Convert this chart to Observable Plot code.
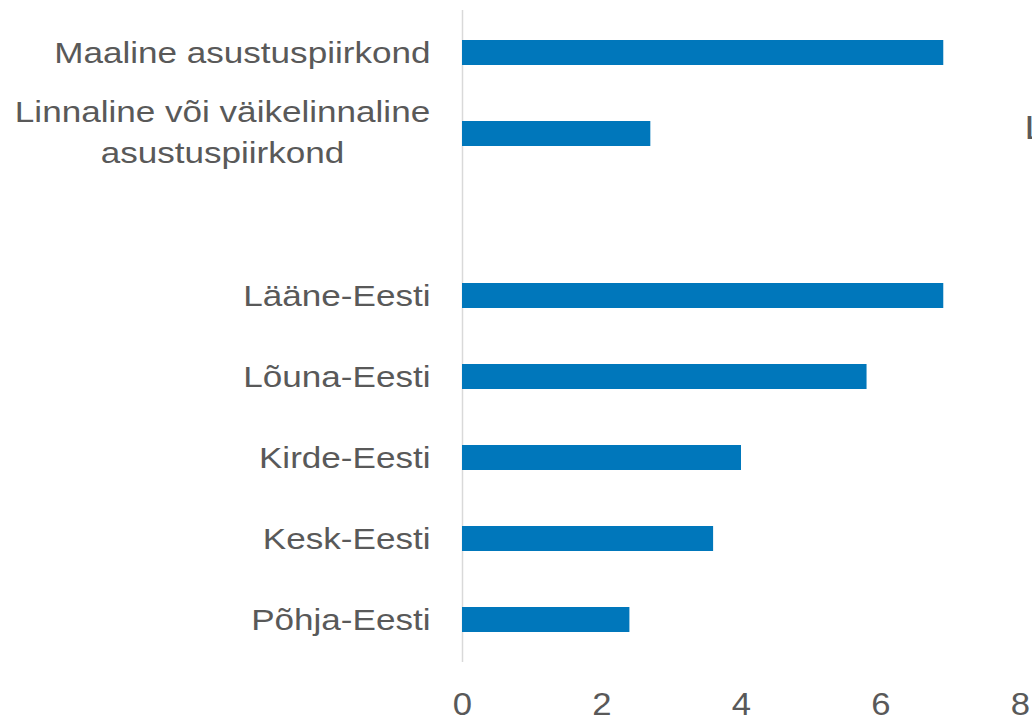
<!DOCTYPE html>
<html>
<head>
<meta charset="utf-8">
<script src="https://cdn.jsdelivr.net/npm/d3@7"></script>
<script src="https://cdn.jsdelivr.net/npm/@observablehq/plot@0.6"></script>
<style>
  html, body { margin: 0; padding: 0; background: #fff; overflow: hidden; }
  #chart svg { overflow: hidden; display: block; }
</style>
</head>
<body>
<div id="chart"></div>
<script>
const categories = [
  "Maaline asustuspiirkond",
  "Linnaline või väikelinnaline\nasustuspiirkond",
  " ",
  "Lääne-Eesti",
  "Lõuna-Eesti",
  "Kirde-Eesti",
  "Kesk-Eesti",
  "Põhja-Eesti"
];
const values = [6.9, 2.7, null, 6.9, 5.8, 4.0, 3.6, 2.4];
const xTicks = [0, 2, 4, 6, 8];
const cutLabel = "L";

const multiLabel = categories[1];
const data = categories.map((c, i) => ({category: c, value: values[i]})).filter(d => d.value != null);

const font = "'Liberation Sans', Arial, sans-serif";
const textColor = "#595959";
const fs = 30;

const chart = Plot.plot({
  width: 1032,
  height: 720,
  marginLeft: 462,
  marginRight: 12,
  marginTop: 10,
  marginBottom: 58,
  style: {fontFamily: font, fontSize: fs + "px", color: textColor, background: "#fff"},
  x: {domain: [0, 8]},
  y: {domain: categories, paddingInner: 0.69, paddingOuter: 0.345},
  marks: [
    Plot.ruleX([0], {stroke: "#d9d9d9", strokeWidth: 1.5}),
    Plot.barX(data, {x: "value", y: "category", fill: "#0077bb"}),
    Plot.axisX({ticks: xTicks, tickSize: 0, tickPadding: 30, fill: textColor, fontSize: 31, label: null}),
    Plot.axisY({tickSize: 0, tickPadding: 32, fill: textColor, fontSize: fs, label: null,
      tickFormat: d => (d === multiLabel ? "" : d)}),
    Plot.text([multiLabel], {x: () => 0, y: d => d, text: d => d, textAnchor: "middle", dx: -240, dy: -5,
      lineHeight: 1.37, fill: textColor, fontSize: fs}),
    Plot.text([cutLabel], {x: () => 8, y: () => multiLabel, text: d => d, textAnchor: "start", dx: 4, dy: -6,
      fill: textColor, fontSize: 33})
  ]
});
// widen glyphs horizontally to match the reference's stretched lettering
d3.select(chart).selectAll("text").each(function() {
  const isX = this.closest('g[aria-label="x-axis tick label"]');
  const t = this.getAttribute("transform") || "";
  this.setAttribute("transform", t + (isX ? " scale(1.12,1)" : " scale(1.17,1)"));
});
document.getElementById("chart").appendChild(chart);
</script>
</body>
</html>
